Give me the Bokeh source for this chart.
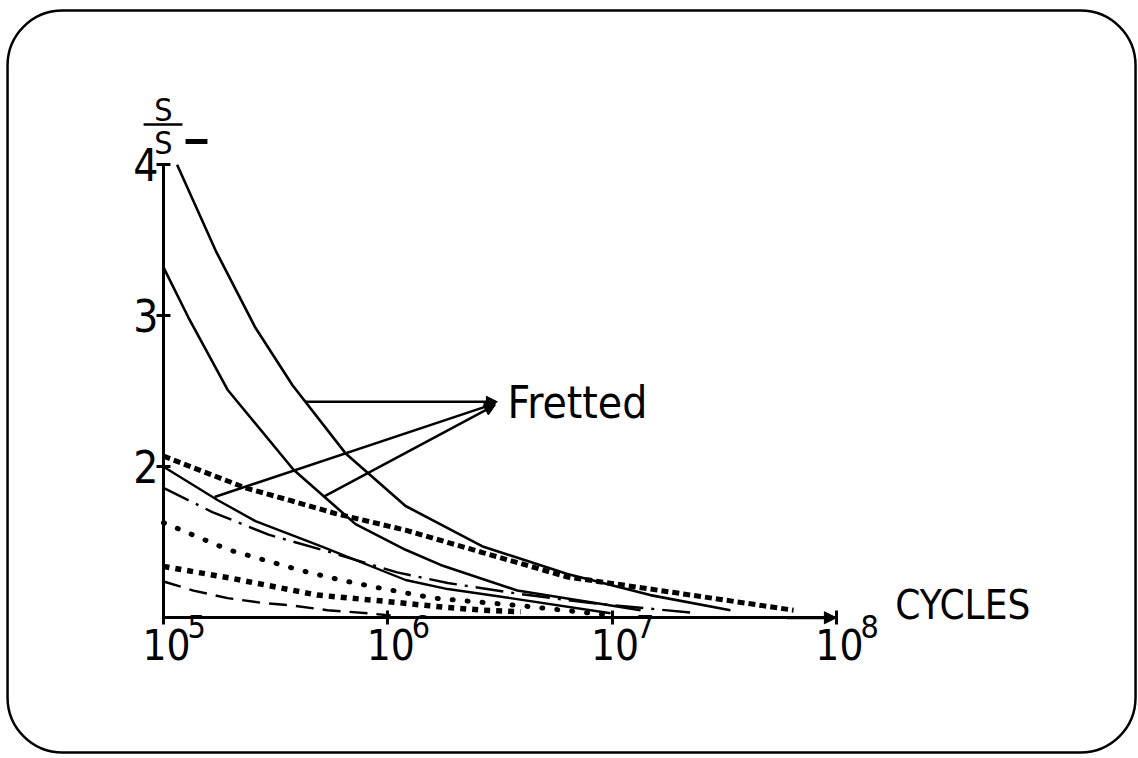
from bokeh.plotting import figure
from bokeh.models import (Range1d, FixedTicker, LabelSet, Arrow, NormalHead,
                          ColumnDataSource, BoxAnnotation)
from bokeh.core.properties import value
from bokeh.embed import file_html
from bokeh.resources import INLINE

FONT = "DejaVu Sans Condensed, Roboto, sans-serif"

# ---- values: cycles and S/S- ----
a_cycles = [1.15e5, 1.71e5, 2.57e5, 3.76e5, 6.47e5, 1.20e6, 2.67e6, 6.32e6, 1.48e7, 3.37e7]
a_ratio = [4.00, 3.43, 2.92, 2.54, 2.09, 1.74, 1.47, 1.29, 1.15, 1.05]

b_cycles = [1.0e5, 1.29e5, 1.93e5, 3.80e5, 7.18e5, 1.20e6, 1.72e6, 3.78e6, 1.34e7]
b_ratio = [3.32, 2.99, 2.51, 1.98, 1.62, 1.45, 1.35, 1.18, 1.05]

c_cycles = [1.0e5, 1.74e5, 2.57e5, 5.12e5, 1.20e6, 1.85e6, 3.52e6, 9.84e6]
c_ratio = [2.00, 1.78, 1.64, 1.47, 1.25, 1.19, 1.13, 1.03]

d_cycles = [1.0e5, 2.32e5, 3.61e5, 5.85e5, 1.20e6, 2.67e6, 6.32e6, 1.48e7, 6.44e7]
d_ratio = [2.07, 1.86, 1.78, 1.69, 1.58, 1.43, 1.27, 1.19, 1.05]

e_cycles = [1.0e5, 1.65e5, 2.94e5, 5.66e5, 1.10e6, 1.85e6, 3.78e6, 7.76e6, 2.40e7]
e_ratio = [1.86, 1.70, 1.55, 1.43, 1.30, 1.23, 1.16, 1.10, 1.03]

f_cycles = [1.0e5, 1.95e5, 2.85e5, 4.17e5, 6.15e5, 8.99e5, 1.60e6, 3.91e6, 9.35e6]
f_ratio = [1.63, 1.45, 1.38, 1.31, 1.25, 1.20, 1.13, 1.08, 1.02]

g_cycles = [1.0e5, 2.03e5, 3.26e5, 4.86e5, 9.57e5, 1.77e6, 2.67e6, 3.91e6]
g_ratio = [1.34, 1.26, 1.20, 1.15, 1.11, 1.07, 1.05, 1.04]

h_cycles = [1.0e5, 1.36e5, 1.93e5, 2.70e5, 3.80e5, 5.38e5, 8.13e5, 1.03e6]
h_ratio = [1.24, 1.18, 1.13, 1.10, 1.08, 1.05, 1.03, 1.015]

# ---- axis ticks and labels ----
y_ticks = [2, 3, 4]
y_tick_labels = ["2", "3", "4"]
x_ticks = [1e5, 1e6, 1e7, 1e8]
x_tick_base = ["10", "10", "10", "10"]
x_tick_exp = ["5", "6", "7", "8"]

# ---- "Fretted" pointer lines ----
ptr_x0 = [4.30e5, 1.69e5, 5.16e5]
ptr_y0 = [2.43, 1.80, 1.80]
ptr_x1 = [3.08e6, 3.02e6, 3.02e6]
ptr_y1 = [2.43, 2.42, 2.41]

# ---- free texts ----
note_text = ["Fretted", "CYCLES"]
note_x = [3.42e6, 1.83e8]
note_y = [2.32, 0.995]
note_size = ["44px", "40px"]
ylab_text = ["S", "S"]
ylab_x = [1e5, 1e5]
ylab_y = [4.293, 4.074]

# ---- canvas / scale layout ----
W, H = 1138, 756
X0_PX, DEC_PX = 163, 224.3          # pixel of 10^5, pixels per decade
Y_MID_PX, UNIT_PX = 390.75, 151.0   # pixel of S=2.5, pixels per unit
x_lo = 10 ** (5 - X0_PX / DEC_PX)
x_hi = 10 ** (5 + (W - X0_PX) / DEC_PX)
y_lo = 2.5 - (H - Y_MID_PX) / UNIT_PX
y_hi = 2.5 + Y_MID_PX / UNIT_PX

p = figure(width=W, height=H, x_axis_type="log",
           x_range=Range1d(x_lo, x_hi), y_range=Range1d(y_lo, y_hi),
           output_backend="svg", toolbar_location=None,
           min_border_left=0, min_border_right=0,
           min_border_top=0, min_border_bottom=0)
p.grid.visible = False
p.outline_line_color = None
p.background_fill_color = "white"
p.border_fill_color = "white"

for ax in (p.xaxis[0], p.yaxis[0]):
    ax.axis_line_width = 3
    ax.axis_line_color = "black"
    ax.major_tick_in = 7
    ax.major_tick_out = 7
    ax.major_tick_line_width = 3
    ax.major_tick_line_color = "black"
    ax.minor_tick_line_color = None
    ax.major_label_text_alpha = 0
    ax.major_label_text_font_size = "10px"
p.yaxis.ticker = FixedTicker(ticks=y_ticks)
p.yaxis.bounds = (1, 4)
p.yaxis.fixed_location = 1e5
p.xaxis.ticker = FixedTicker(ticks=x_ticks)
p.xaxis.bounds = (1e5, 1e8)
p.xaxis.fixed_location = 1

# rounded frame around the slide
p.add_layout(BoxAnnotation(left=2.017e4, right=2.156e9, top=5.0215, bottom=0.1076,
                           fill_color=None, line_color="black", line_alpha=1.0,
                           line_width=2.5, border_radius=55, editable=False))

K = "black"
p.line(a_cycles, a_ratio, line_color=K, line_width=2.6)
p.line(b_cycles, b_ratio, line_color=K, line_width=2.6)
p.line(c_cycles, c_ratio, line_color=K, line_width=2.4)
p.line(d_cycles, d_ratio, line_color=K, line_width=5, line_dash="7 4")
p.line(e_cycles, e_ratio, line_color=K, line_width=2.4, line_dash="28 8 3 8")
p.line(f_cycles, f_ratio, line_color=K, line_width=5, line_dash="1 14", line_cap="round")
p.line(g_cycles, g_ratio, line_color=K, line_width=5.5, line_dash="6 6")
p.line(h_cycles, h_ratio, line_color=K, line_width=2.4, line_dash="18 9")

# x-axis arrowhead
p.add_layout(Arrow(x_start=6.0e7, y_start=1, x_end=1e8, y_end=1, line_width=3,
                   end=NormalHead(size=12, fill_color=K, line_color=K)))

# pointers
for x0, y0, x1, y1 in zip(ptr_x0, ptr_y0, ptr_x1, ptr_y1):
    p.add_layout(Arrow(x_start=x0, y_start=y0, x_end=x1, y_end=y1, line_width=2.5,
                       end=NormalHead(size=11, fill_color=K, line_color=K)))

nsrc = ColumnDataSource(dict(x=note_x, y=note_y, t=note_text, s=note_size))
p.add_layout(LabelSet(source=nsrc, x="x", y="y", text="t", text_font_size="s",
                      text_font=value(FONT), text_align="left",
                      text_baseline="alphabetic", text_color=K))

# y label  S / S-
lsrc = ColumnDataSource(dict(x=ylab_x, y=ylab_y, t=ylab_text))
p.add_layout(LabelSet(source=lsrc, x="x", y="y", text="t", text_font_size="32px",
                      text_font=value(FONT), text_align="center",
                      text_baseline="alphabetic", text_color=K))
p.add_layout(Arrow(x_start=8.15e4, y_start=4.267, x_end=1.215e5, y_end=4.267,
                   line_width=2.5, end=None))
p.add_layout(Arrow(x_start=1.254e5, y_start=4.154, x_end=1.57e5, y_end=4.154,
                   line_width=5, end=None))

# tick labels
ysrc = ColumnDataSource(dict(x=[1e5] * len(y_ticks), y=y_ticks, t=y_tick_labels))
p.add_layout(LabelSet(source=ysrc, x="x", y="y", text="t", x_offset=-5,
                      text_font=value(FONT), text_font_size="44px",
                      text_align="right", text_baseline="middle", text_color=K))
xsrc = ColumnDataSource(dict(x=x_ticks, y0=[0.717] * 4, y1=[0.869] * 4,
                             b=x_tick_base, e=x_tick_exp))
p.add_layout(LabelSet(source=xsrc, x="x", y="y0", text="b", x_offset=3,
                      text_font=value(FONT), text_font_size="42px",
                      text_align="center", text_baseline="alphabetic", text_color=K))
p.add_layout(LabelSet(source=xsrc, x="x", y="y1", text="e", x_offset=24,
                      text_font=value(FONT), text_font_size="32px",
                      text_align="left", text_baseline="alphabetic", text_color=K))

open("out.html", "w").write(file_html(p, INLINE))
